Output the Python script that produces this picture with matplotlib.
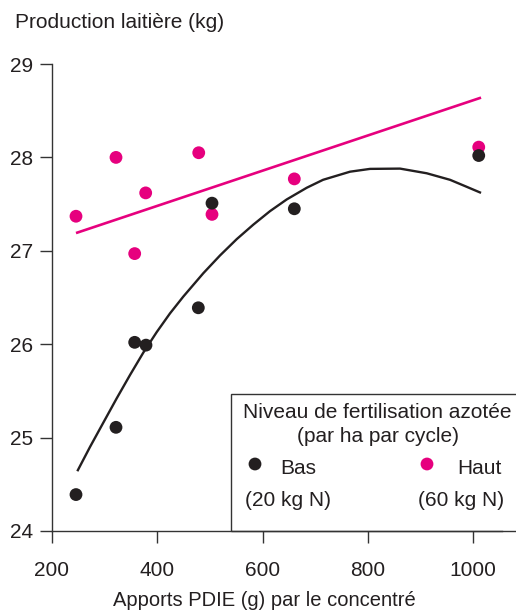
import matplotlib
matplotlib.use("Agg")
import matplotlib.pyplot as plt
from matplotlib.patches import Rectangle

plt.rcParams['font.family'] = ['Liberation Sans', 'DejaVu Sans']

# --- data ---
x_bas = [245.6, 321.6, 357.1, 378.6, 478.0, 504.0, 660.4, 1010.8]
y_bas = [24.39, 25.11, 26.02, 25.99, 26.39, 27.51, 27.45, 28.02]

x_haut = [245.6, 321.6, 378.0, 357.1, 478.8, 504.0, 660.4, 1010.8]
y_haut = [27.37, 28.00, 27.62, 26.97, 28.05, 27.39, 27.77, 28.11]

# fitted curve for "Bas"
curve_bas_x = [248.1, 272.2, 297.5, 322.9, 348.2, 373.5, 399.0, 424.2, 449.5,
               487.5, 519.2, 551.0, 582.5, 614.3, 646.0, 684.0, 715.0, 766.3,
               804.3, 861.3, 912.0, 956.3, 988.0, 1015.2]
curve_bas_y = [24.64, 24.90, 25.16, 25.42, 25.67, 25.91, 26.13, 26.33, 26.51,
               26.76, 26.95, 27.125, 27.28, 27.425, 27.55, 27.675, 27.76, 27.847,
               27.877, 27.88, 27.83, 27.76, 27.685, 27.62]

# fitted line for "Haut"
line_haut_x = [245.6, 1015.2]
line_haut_y = [27.19, 28.64]

x_ticks = [200, 400, 600, 800, 1000]
y_ticks = [24, 25, 26, 27, 28, 29]

BLACK = '#231F20'
PINK = '#E6007E'

W, H = 516, 611
fig = plt.figure(figsize=(W / 100, H / 100), dpi=100)
ax = fig.add_axes([52 / W, 1 - 531 / H, (502 - 52) / W, (531 - 64) / H])

ax.plot(curve_bas_x, curve_bas_y, color=BLACK, lw=1.7, solid_capstyle='butt',
        solid_joinstyle='round', zorder=2)
ax.plot(line_haut_x, line_haut_y, color=PINK, lw=1.9, solid_capstyle='butt', zorder=2)
ax.scatter(x_haut, y_haut, s=85, color=PINK, edgecolors='none', zorder=3)
ax.scatter(x_bas, y_bas, s=85, color=BLACK, edgecolors='none', zorder=4)

ax.set_xlim(200, 1055)
ax.set_ylim(24, 29)
ax.set_xticks(x_ticks)
ax.set_yticks(y_ticks)
ax.set_xticklabels([str(v) for v in x_ticks])
ax.set_yticklabels([str(v) for v in y_ticks])
for s in ['top', 'right']:
    ax.spines[s].set_visible(False)
for s in ['left', 'bottom']:
    ax.spines[s].set_color('#333333')
    ax.spines[s].set_linewidth(1.0)
ax.tick_params(direction='out', length=8.5, width=1.0, color='#333333',
               labelsize=15, labelcolor=BLACK)
ax.tick_params(axis='y', pad=5)
ax.tick_params(axis='x', pad=13)

# legend box
rect = Rectangle((540, 24), 700, 1.47, fill=False, edgecolor='#333333',
                 lw=1.0, clip_on=False, zorder=5)
ax.add_patch(rect)

def fx(px):
    return px / W

def fy(py):
    return 1 - py / H

fs = 15
fig.text(fx(377), fy(413), "Niveau de fertilisation azotée", ha='center', va='center',
         fontsize=fs, color=BLACK)
fig.text(fx(378), fy(436), "(par ha par cycle)", ha='center', va='center',
         fontsize=fs, color=BLACK)
ax.scatter([fx(255)], [fy(464)], s=85, color=BLACK, transform=fig.transFigure,
           clip_on=False, edgecolors='none', zorder=6)
ax.scatter([fx(427)], [fy(464)], s=85, color=PINK, transform=fig.transFigure,
           clip_on=False, edgecolors='none', zorder=6)
fig.text(fx(280), fy(468), "Bas", ha='left', va='center', fontsize=fs, color=BLACK)
fig.text(fx(457), fy(468), "Haut", ha='left', va='center', fontsize=fs, color=BLACK)
fig.text(fx(245), fy(500), "(20 kg N)", ha='left', va='center', fontsize=fs, color=BLACK)
fig.text(fx(418), fy(500), "(60 kg N)", ha='left', va='center', fontsize=fs, color=BLACK)

fig.text(fx(15), fy(23), "Production laitière (kg)", ha='left', va='center',
         fontsize=15, color=BLACK)
fig.text(fx(264), fy(601), "Apports PDIE (g) par le concentré", ha='center', va='center',
         fontsize=14.5, color=BLACK)

fig.savefig('out.png', dpi=100)
